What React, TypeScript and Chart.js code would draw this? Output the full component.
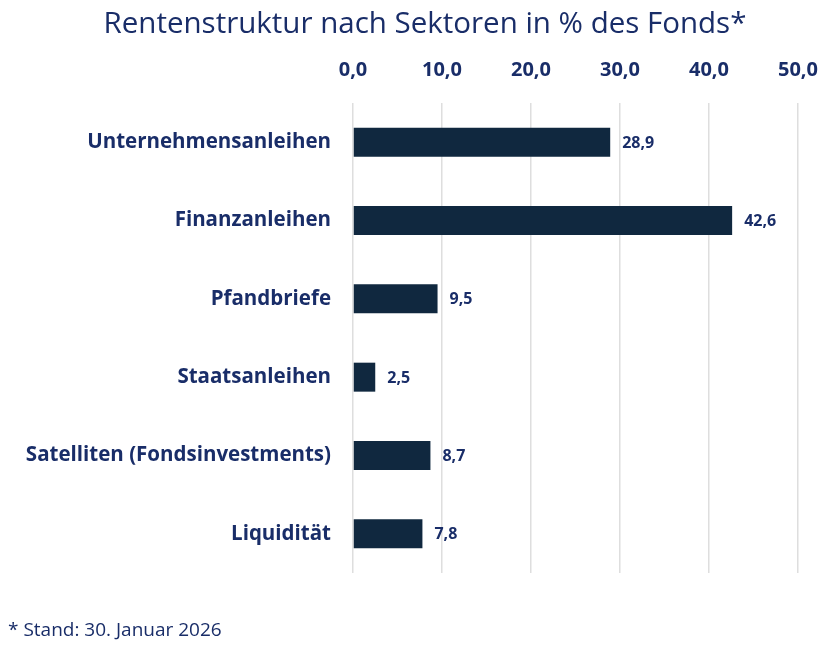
import React, { useEffect, useRef } from "react";
import { Chart, registerables } from "chart.js";

Chart.register(...registerables);

const TITLE = "Rentenstruktur nach Sektoren in % des Fonds*";
const FOOTNOTE = "* Stand: 30. Januar 2026";
const categories = [
  "Unternehmensanleihen",
  "Finanzanleihen",
  "Pfandbriefe",
  "Staatsanleihen",
  "Satelliten (Fondsinvestments)",
  "Liquidität",
];
const values = [28.9, 42.6, 9.5, 2.5, 8.7, 7.8];
const xTicks = [0, 10, 20, 30, 40, 50];

const NAVY_TEXT = "#192d68";
const BAR = "#10283f";
const FONT = "'Open Sans', Lato, sans-serif";

const fmt = (v: number) => v.toFixed(1).replace(".", ",");

const textPlugin = {
  id: "texts",
  afterDraw(chart: any) {
    const ctx = chart.ctx;
    ctx.save();
    ctx.fillStyle = NAVY_TEXT;
    ctx.textBaseline = "middle";
    ctx.textAlign = "center";
    ctx.font = `400 29.5px ${FONT}`;
    ctx.fillText(TITLE, 425, 25);
    ctx.textAlign = "left";
    ctx.font = `400 19px ${FONT}`;
    ctx.fillText(FOOTNOTE, 8, 631);
    ctx.restore();
  },
  afterDatasetsDraw(chart: any) {
    const ctx = chart.ctx;
    const meta = chart.getDatasetMeta(0);
    ctx.save();
    ctx.fillStyle = NAVY_TEXT;
    ctx.textBaseline = "middle";
    ctx.textAlign = "left";
    ctx.font = `700 16px ${FONT}`;
    meta.data.forEach((bar: any, i: number) => {
      ctx.fillText(fmt(values[i]), bar.x + 12, bar.y + 1);
    });
    ctx.restore();
  },
};

export default function App() {
  const ref = useRef<HTMLCanvasElement | null>(null);
  useEffect(() => {
    if (!ref.current) return;
    const chart = new Chart(ref.current, {
      type: "bar",
      data: {
        labels: categories,
        datasets: [
          {
            data: values,
            backgroundColor: BAR,
            borderWidth: 0,
            barPercentage: 0.37,
            categoryPercentage: 1,
          },
        ],
      },
      options: {
        indexAxis: "y",
        animation: false,
        responsive: false,
        maintainAspectRatio: false,
        layout: { padding: { top: 50, bottom: 75, left: 0, right: 29 } },
        plugins: {
          legend: { display: false },
          tooltip: { enabled: false },
          title: { display: false },
        },
        scales: {
          x: {
            position: "top",
            min: 0,
            max: 50,
            afterBuildTicks: (scale: any) => {
              scale.ticks = xTicks.map((v) => ({ value: v }));
            },
            afterFit: (scale: any) => {
              scale.height = 53;
              scale.paddingLeft = 0;
              scale.paddingRight = 0;
            },
            ticks: {
              color: NAVY_TEXT,
              font: { family: FONT, size: 20, weight: "bold" },
              padding: 21,
              maxRotation: 0,
              callback: (v: any) => fmt(Number(v)),
            },
            grid: { color: "#dedede", lineWidth: 1.5, drawTicks: false },
            border: { display: false },
          },
          y: {
            afterFit: (scale: any) => {
              scale.width = 353;
            },
            ticks: {
              color: NAVY_TEXT,
              font: { family: FONT, size: 20.5, weight: "bold" },
              padding: 22,
            },
            grid: { display: false, drawTicks: false },
            border: { display: false },
          },
        },
      },
      plugins: [textPlugin],
    });
    return () => chart.destroy();
  }, []);
  return (
    <div style={{ position: "fixed", left: 0, top: 0, width: 827, height: 648, background: "#fff" }}>
      <canvas ref={ref} width={827} height={648} style={{ width: 827, height: 648 }} />
    </div>
  );
}
